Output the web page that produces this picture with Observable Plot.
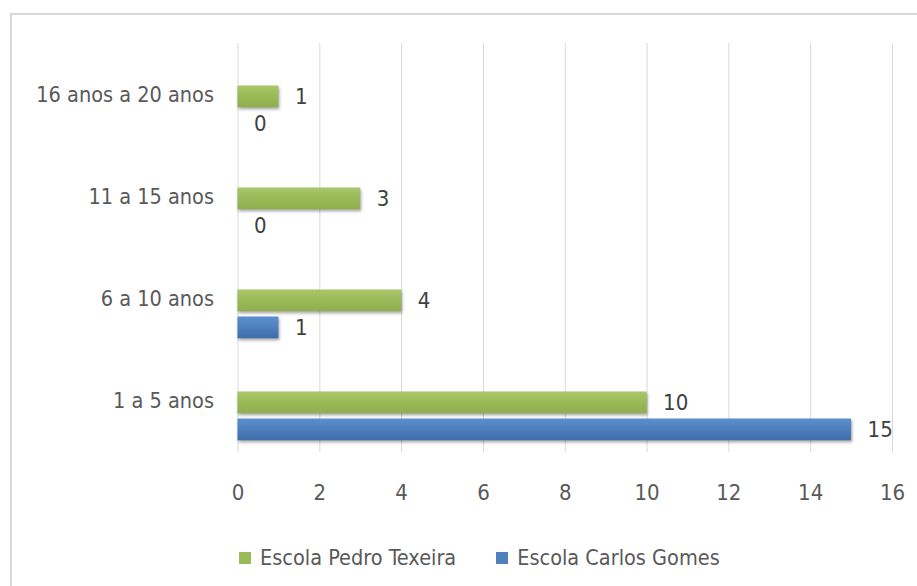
<!DOCTYPE html>
<html>
<head>
<meta charset="utf-8">
<script src="https://cdn.jsdelivr.net/npm/d3@7"></script>
<script src="https://cdn.jsdelivr.net/npm/@observablehq/plot@0.6"></script>
<style>
  html, body { margin: 0; padding: 0; background: #fff; width: 917px; height: 586px; overflow: hidden; }
  #frame { position: absolute; left: 10px; top: 13px; width: 1000px; height: 1000px; border: 2px solid #d9d9d9; box-sizing: border-box; }
  #chart { position: absolute; left: 0; top: 0; }
  #legend { position: absolute; left: 239px; top: 544px; display: flex; align-items: center;
            font-family: "Liberation Sans Narrow", "DejaVu Sans Condensed", "Liberation Sans", sans-serif;
            font-size: 21.5px; color: #595959; line-height: 28px; }
  #legend .item { display: flex; align-items: center; margin-right: 40px; }
  #legend .sw { width: 12px; height: 12px; margin-right: 9px; }
  .bars rect { filter: drop-shadow(1.5px 2.5px 1.5px rgba(0,0,0,0.35)); }
</style>
</head>
<body>
<div id="frame"></div>
<div id="chart"></div>
<div id="legend"></div>
<script>
// Age groups, top to bottom
const categories = ["16 anos a 20 anos", "11 a 15 anos", "6 a 10 anos", "1 a 5 anos"];
// Series names
const series = ["Escola Pedro Texeira", "Escola Carlos Gomes"];
// Counts per age group for each school
const pedroTexeira = [1, 3, 4, 10];
const carlosGomes = [0, 0, 1, 15];
// Horizontal axis ticks
const xTicks = [0, 2, 4, 6, 8, 10, 12, 14, 16];
const seriesColors = ["#9bbb59", "#4f81bd"];
const gradientIds = ["gradGreen", "gradBlue"];

const rows = [];
categories.forEach((c, i) => {
  rows.push({age: c, school: series[0], value: pedroTexeira[i]});
  rows.push({age: c, school: series[1], value: carlosGomes[i]});
});
const green = rows.filter(d => d.school === series[0]);
const blue = rows.filter(d => d.school === series[1]);

const font = '"Liberation Sans Narrow", "DejaVu Sans Condensed", "Liberation Sans", sans-serif';

const chart = Plot.plot({
  width: 917,
  height: 535,
  marginLeft: 237.5,
  marginRight: 25,
  marginTop: 43,
  marginBottom: 83,
  style: {fontFamily: font, fontSize: "21.5px", color: "#595959", background: "transparent", overflow: "visible"},
  x: {domain: [0, 16], ticks: xTicks, tickSize: 0, tickPadding: 32, label: null},
  y: {domain: categories, padding: 0, tickSize: 0, tickPadding: 24, label: null},
  marks: [
    Plot.ruleX(xTicks, {stroke: "#d9d9d9", strokeOpacity: 1}),
    Plot.barX(green, {x: "value", y: "age", fill: `url(#${gradientIds[0]})`, insetTop: 41.5, insetBottom: 38.75, className: "bars"}),
    Plot.barX(blue, {x: "value", y: "age", fill: `url(#${gradientIds[1]})`, insetTop: 68.5, insetBottom: 11.75, className: "bars"}),
    Plot.text(green, {x: "value", y: "age", text: d => String(d.value), dx: 16, dy: 1.5, textAnchor: "start", fill: "#404040", fontSize: 22}),
    Plot.text(blue, {x: "value", y: "age", text: d => String(d.value), dx: 16, dy: 28.5, textAnchor: "start", fill: "#404040", fontSize: 22})
  ]
});

// Vertical gradients give the bars their bevelled look
const svg = d3.select(chart);
svg.selectAll("g[aria-label='x-axis tick label'] text, g[aria-label='x-axis'] text").style("font-size", "22px");
const defs = svg.insert("defs", ":first-child");
const stops = [["#a8c86b", "#8fae4e"], ["#5b8fcf", "#3d6eab"]];
gradientIds.forEach((id, i) => {
  const g = defs.append("linearGradient").attr("id", id).attr("x1", 0).attr("y1", 0).attr("x2", 0).attr("y2", 1);
  g.append("stop").attr("offset", "0%").attr("stop-color", stops[i][0]);
  g.append("stop").attr("offset", "45%").attr("stop-color", seriesColors[i]);
  g.append("stop").attr("offset", "100%").attr("stop-color", stops[i][1]);
});
document.getElementById("chart").appendChild(chart);

// Legend
const legend = d3.select("#legend");
series.forEach((s, i) => {
  const item = legend.append("div").attr("class", "item");
  item.append("div").attr("class", "sw").style("background", seriesColors[i]);
  item.append("span").text(s);
});
</script>
</body>
</html>
